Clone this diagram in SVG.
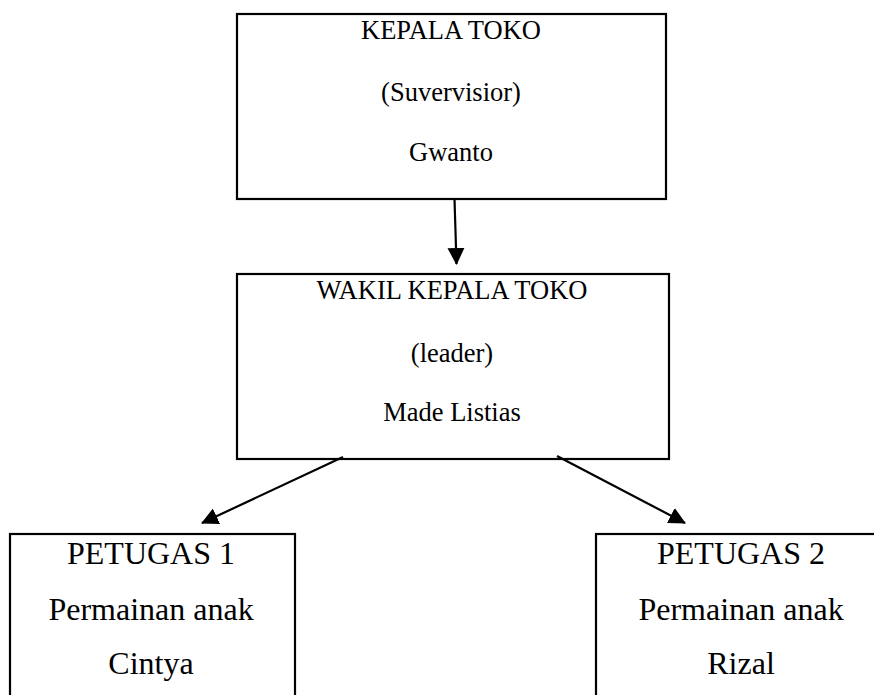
<svg xmlns="http://www.w3.org/2000/svg" width="874" height="695" viewBox="0 0 874 695">
<style>
.box{fill:#fff;stroke:#000;stroke-width:2.2}
.t{font-family:"Liberation Serif","Times New Roman",serif;fill:#000;text-anchor:middle}
.s{font-size:26.5px}
.l{font-size:32px}
.c{stroke:#000;stroke-width:2.2;fill:none}
</style>
<defs>
<marker id="ah" markerUnits="userSpaceOnUse" markerWidth="18" markerHeight="18" refX="16" refY="8.5" orient="auto">
<path d="M0,0 L17,8.5 L0,17 z" fill="#000"/>
</marker>
</defs>
<rect width="874" height="695" fill="#fff"/>
<g id="kepala">
<rect class="box" x="237" y="14" width="429" height="185"/>
<text class="t s" x="451" y="38.5">KEPALA TOKO</text>
<text class="t s" x="451" y="100.5">(Suvervisior)</text>
<text class="t s" x="451" y="161">Gwanto</text>
</g>
<g id="wakil">
<rect class="box" x="237" y="274" width="432" height="185"/>
<text class="t s" x="452" y="299">WAKIL KEPALA TOKO</text>
<text class="t s" x="452" y="361.5">(leader)</text>
<text class="t s" x="452" y="421">Made Listias</text>
</g>
<g id="petugas1">
<rect class="box" x="10" y="534" width="285" height="200"/>
<text class="t l" x="151" y="564">PETUGAS 1</text>
<text class="t l" x="151" y="620">Permainan anak</text>
<text class="t l" x="151" y="674">Cintya</text>
</g>
<g id="petugas2">
<rect class="box" x="596" y="534" width="290" height="200"/>
<text class="t l" x="741" y="564">PETUGAS 2</text>
<text class="t l" x="741" y="620">Permainan anak</text>
<text class="t l" x="741" y="674">Rizal</text>
</g>
<g id="connectors">
<line class="c" x1="454.5" y1="199" x2="456.5" y2="264" marker-end="url(#ah)"/>
<line class="c" x1="343" y1="457" x2="202" y2="523" marker-end="url(#ah)"/>
<line class="c" x1="557" y1="456" x2="685" y2="523" marker-end="url(#ah)"/>
</g>
</svg>
